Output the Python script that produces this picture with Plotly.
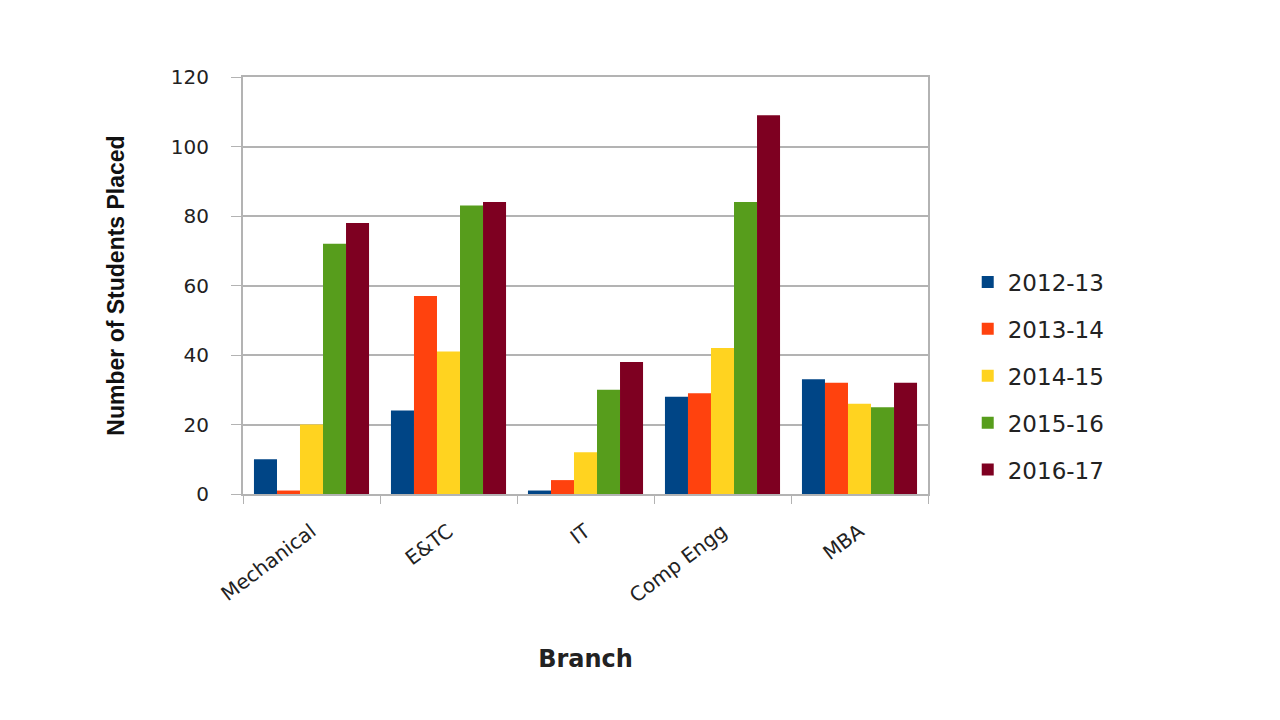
import plotly.graph_objects as go

branches = ["Mechanical", "E&TC", "IT", "Comp Engg", "MBA"]
years = ["2012-13", "2013-14", "2014-15", "2015-16", "2016-17"]
v_2012_13 = [10, 24, 1, 28, 33]
v_2013_14 = [1, 57, 4, 29, 32]
v_2014_15 = [20, 41, 12, 42, 26]
v_2015_16 = [72, 83, 30, 84, 25]
v_2016_17 = [78, 84, 38, 109, 32]
series = [v_2012_13, v_2013_14, v_2014_15, v_2015_16, v_2016_17]
colors = ["#004586", "#ff420e", "#ffd320", "#579d1c", "#7e0021"]

fig = go.Figure()
for name, vals, col in zip(years, series, colors):
    fig.add_trace(go.Bar(name=name, x=branches, y=vals, marker_color=col,
                         marker_line_width=0, legendgroup=name))

tick_font = dict(family="DejaVu Sans", size=20, color="#222222")
fig.update_layout(
    width=1280, height=720,
    paper_bgcolor="white", plot_bgcolor="white",
    margin=dict(l=235, r=360, t=69, b=234),
    barmode="group", bargap=0.16, bargroupgap=0,
    showlegend=True,
    legend=dict(x=1.058, y=0.56, xanchor="left", yanchor="top",
                font=dict(family="DejaVu Sans", size=23, color="#222222"),
                tracegroupgap=14, itemwidth=30),
    xaxis=dict(
        showline=True, mirror=True, linecolor="#b3b3b3", linewidth=2,
        ticks="outside", tickson="boundaries", ticklen=8, tickcolor="#b3b3b3",
        tickangle=-37, tickfont=tick_font, ticklabelstandoff=16,
        title=dict(text="<b>Branch</b>", font=dict(family="DejaVu Sans", size=24, color="#222222"), standoff=44),
        automargin=False,
    ),
    yaxis=dict(
        range=[0, 120], dtick=20,
        showline=True, mirror=True, linecolor="#b3b3b3", linewidth=2,
        showgrid=True, gridcolor="#b3b3b3", gridwidth=2,
        zeroline=False,
        ticks="outside", ticklen=10, tickcolor="#b3b3b3",
        tickfont=tick_font, ticklabelstandoff=18,
        title=dict(text="<b>Number of Students Placed</b>",
                   font=dict(family="Liberation Sans", size=23, color="#111111"),
                   standoff=40),
        automargin=False,
    ),
)

fig.write_html("out.html")
